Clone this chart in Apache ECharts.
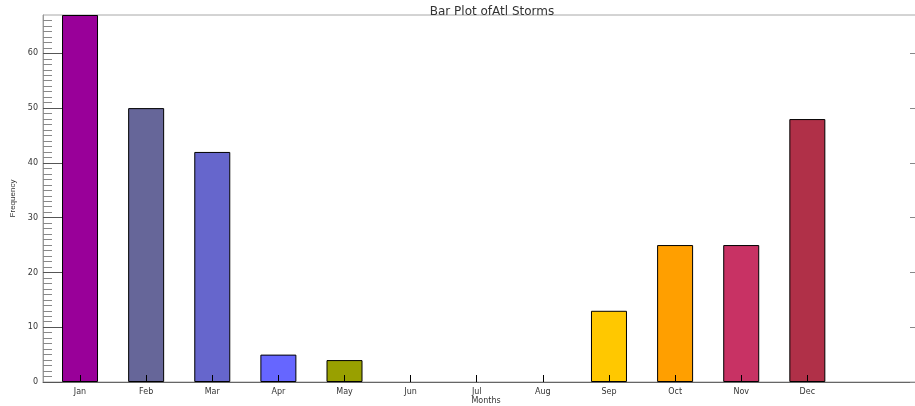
<!DOCTYPE html>
<html><head><meta charset="utf-8">
<script src="https://cdn.jsdelivr.net/npm/echarts@6/dist/echarts.min.js"></script>
<style>html,body{margin:0;padding:0;background:#fff}#c{width:915px;height:406px}</style>
</head><body><div id="c"></div>
<script>
var months = ["Jan","Feb","Mar","Apr","May","Jun","Jul","Aug","Sep","Oct","Nov","Dec"];
var frequency = [67, 50, 42, 5, 4, 0, 0, 0, 13, 25, 25, 48];
var barColors = ["#990099","#666699","#6666cc","#6666ff","#99a000","#999999","#999999","#999999","#ffc800","#ff9f00","#c83264","#b03048"];
var yTicks = [0, 10, 20, 30, 40, 50, 60];

var idx = months.map(function(m, i){ return i; });
var chart = echarts.init(document.getElementById('c'), null, {renderer:'canvas'});
var font = 'DejaVu Sans';
chart.setOption({
  animation: false,
  title: {
    text: 'Bar Plot ofAtl Storms', left: 487, top: 1, textAlign: 'center',
    textStyle: {fontFamily: font, fontSize: 12, fontWeight: 'normal', color: '#333'}
  },
  grid: {left: 43, right: -14, top: 15, bottom: 24, outerBoundsMode: 'none', containLabel: false,
    show: true, borderColor: '#a8a8a8', borderWidth: 1, backgroundColor: 'transparent'},
  xAxis: [{
    type: 'value', min: -0.56, max: 12.84, z: 5,
    name: 'Months', nameLocation: 'middle', nameGap: 15, nameMoveOverlap: false,
    nameTextStyle: {fontFamily: font, fontSize: 8, color: '#333'},
    splitLine: {show: false},
    axisLine: {show: true, onZero: false, lineStyle: {color: '#666', width: 1}},
    axisTick: {show: true, inside: true, length: 7, customValues: idx, lineStyle: {color: '#000'}},
    axisLabel: {show: true, customValues: idx, margin: 6, fontFamily: font, fontSize: 8, color: '#333',
      formatter: function(v){ return months[Math.round(v)] || ''; }}
  }],
  yAxis: [{
    type: 'value', min: 0, max: 67, interval: 10, z: 5,
    name: 'Frequency', nameLocation: 'middle', nameGap: 26, nameRotate: 90, nameMoveOverlap: false,
    nameTextStyle: {fontFamily: 'Liberation Sans', fontSize: 8, color: '#333'},
    splitLine: {show: false},
    axisLine: {show: true, onZero: false, lineStyle: {color: '#999'}},
    axisTick: {show: true, inside: true, length: 19, customValues: yTicks, lineStyle: {color: '#555'}},
    minorTick: {show: true, splitNumber: 10, length: 9, lineStyle: {color: '#888'}},
    axisLabel: {customValues: yTicks, margin: 5, fontFamily: font, fontSize: 8, color: '#333'}
  }, {
    type: 'value', min: 0, max: 67, interval: 10, position: 'right', z: 5,
    splitLine: {show: false},
    axisLine: {show: true, onZero: false, lineStyle: {color: '#999'}},
    axisTick: {show: true, inside: true, length: 19, customValues: yTicks, lineStyle: {color: '#888'}},
    minorTick: {show: true, splitNumber: 10, length: 9, lineStyle: {color: '#aaa'}},
    axisLabel: {show: false}
  }],
  series: [{
    type: 'bar', barWidth: 36,
    itemStyle: {borderColor: '#000', borderWidth: 1},
    data: frequency.map(function(v, i){
      return {value: [i, v], itemStyle: {color: barColors[i], borderWidth: v > 0 ? 1 : 0}};
    })
  }]
});
</script></body></html>
